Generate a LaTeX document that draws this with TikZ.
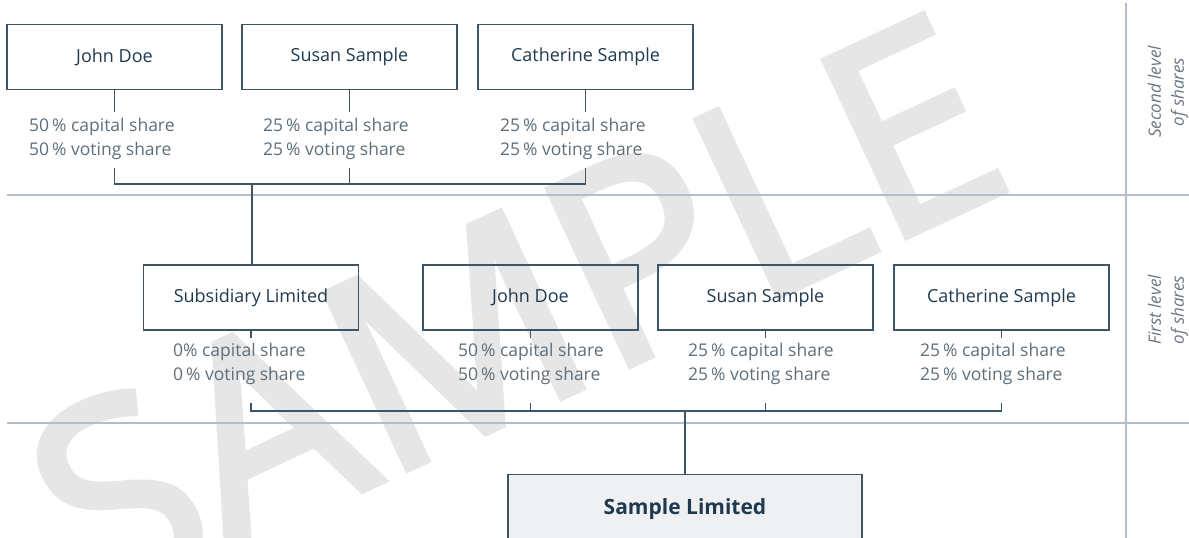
\documentclass[tikz,border=0pt]{standalone}
\usepackage{fontspec}
\setmainfont{Open Sans}
\newfontfamily\stampfont{Open Sans}[FakeBold=2.5]
\usetikzlibrary{positioning}

\definecolor{boxline}{HTML}{3E5467}
\definecolor{nametext}{HTML}{1F3A50}
\definecolor{sharetext}{HTML}{5E6E7B}
\definecolor{ruleline}{HTML}{B3BDCC}
\definecolor{bandtext}{HTML}{6A7684}
\definecolor{basefill}{HTML}{EEF0F2}
\definecolor{stamp}{HTML}{E6E6E6}

\tikzset{
  owner/.style={draw=boxline, line width=1.3pt, minimum width=215pt,
    minimum height=65pt, inner sep=0pt, text=nametext,
    font=\fontsize{18}{22}\selectfont},
  share/.style={anchor=west, align=left, text=sharetext, inner sep=0pt,
    font=\fontsize{17.5}{24}\selectfont},
  link/.style={draw=boxline, line width=1.2pt},
  band/.style={draw=ruleline, line width=1.2pt},
  bandlabel/.style={rotate=90, align=center, text=bandtext,
    font=\fontsize{17}{23}\selectfont\itshape},
}

\begin{document}
\begin{tikzpicture}[x=1pt, y=-1pt]
    \useasboundingbox (0,0) rectangle (1189,538);

    % Watermark
    \node[text=stamp, rotate=25, inner sep=0pt,
      font=\stampfont\fontsize{272}{272}\selectfont]
      (stamp) at (515,312) {SAMPLE};

    % Bands
    \draw[band] (7,195) -- (1189,195);
    \draw[band] (7,423) -- (1189,423);
    \draw[band] (1126,3) -- (1126,545);
    \node[bandlabel] (lvl2) at (1168,92) {Second level\\of shares};
    \node[bandlabel] (lvl1) at (1168,310) {First level\\of shares};

    % Second level owners
    \node[owner] (john2) at (114.5,57) {John Doe};
    \node[owner] (susan2) at (349.5,57) {Susan Sample};
    \node[owner] (cath2) at (585.5,57) {Catherine Sample};
    \node[share] (john2s) at (29,139) {50\,\% capital share\\50\,\% voting share};
    \node[share] (susan2s) at (263,139) {25\,\% capital share\\25\,\% voting share};
    \node[share] (cath2s) at (500,139) {25\,\% capital share\\25\,\% voting share};

    % First level owners
    \node[owner] (subs) at (251,297.5) {Subsidiary Limited};
    \node[owner] (john1) at (530.5,297.5) {John Doe};
    \node[owner] (susan1) at (765.5,297.5) {Susan Sample};
    \node[owner] (cath1) at (1001.5,297.5) {Catherine Sample};
    \node[share] (subss) at (173,364) {0\% capital share\\0\,\% voting share};
    \node[share] (john1s) at (458,364) {50\,\% capital share\\50\,\% voting share};
    \node[share] (susan1s) at (688,364) {25\,\% capital share\\25\,\% voting share};
    \node[share] (cath1s) at (920,364) {25\,\% capital share\\25\,\% voting share};

    % Company
    \node[owner, fill=basefill, anchor=north, minimum width=354pt,
      minimum height=68pt, font=\fontsize{21}{25}\selectfont\bfseries]
      (base) at (685,474) {Sample Limited};

    % Second level links
    \coordinate (bus2) at (252,184);
    \foreach \n in {john2, susan2, cath2}
      \draw[link] (\n.south) -- ([yshift=-22pt]\n.south);
    \draw[link] ([yshift=-78pt]john2.south) -- (john2.south |- bus2)
      -- (cath2.south |- bus2) -- ([yshift=-78pt]cath2.south);
    \draw[link] ([yshift=-78pt]susan2.south) -- (susan2.south |- bus2);
    \draw[link] (bus2) -- (bus2 |- subs.north);

    % First level links
    \coordinate (bus1) at (685,411);
    \foreach \n in {subs, john1, susan1, cath1}
      \draw[link] (\n.south) -- ([yshift=-7pt]\n.south);
    \draw[link] ([yshift=-72pt]subs.south) -- (subs.south |- bus1)
      -- (cath1.south |- bus1) -- ([yshift=-72pt]cath1.south);
    \foreach \n in {john1, susan1}
      \draw[link] ([yshift=-72pt]\n.south) -- (\n.south |- bus1);
    \draw[link] (bus1) -- (base.north);
\end{tikzpicture}
\end{document}
